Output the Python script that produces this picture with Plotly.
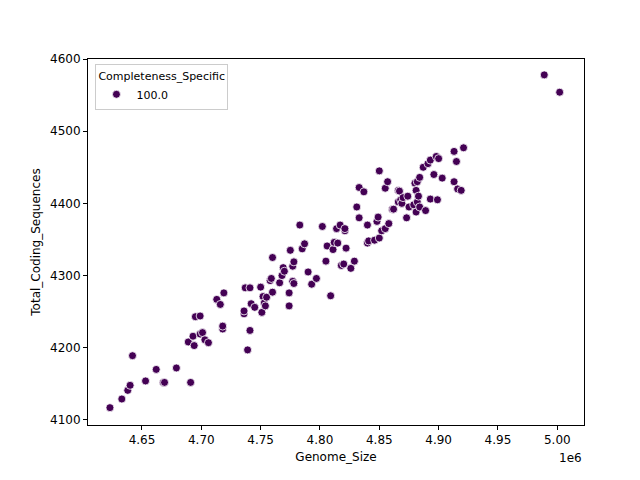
import plotly.graph_objects as go

genome_size_mb = [4.623,4.633,4.638,4.640,4.642,4.653,4.662,4.668,4.669,4.679,4.691,4.689,4.693,4.694,4.695,4.699,4.699,4.701,4.703,4.706,4.713,4.716,4.718,4.718,4.719,4.736,4.736,4.737,4.739,4.741,4.741,4.742,4.745,4.750,4.751,4.752,4.753,4.754,4.755,4.758,4.759,4.760,4.760,4.766,4.768,4.769,4.770,4.774,4.774,4.775,4.777,4.777,4.778,4.778,4.783,4.785,4.787,4.790,4.793,4.797,4.802,4.805,4.806,4.809,4.811,4.812,4.814,4.815,4.817,4.818,4.820,4.821,4.821,4.822,4.826,4.829,4.831,4.833,4.833,4.837,4.840,4.840,4.841,4.846,4.848,4.849,4.850,4.850,4.852,4.855,4.855,4.857,4.858,4.861,4.862,4.866,4.866,4.867,4.868,4.869,4.870,4.873,4.874,4.875,4.879,4.880,4.881,4.881,4.882,4.882,4.883,4.884,4.884,4.887,4.889,4.891,4.893,4.893,4.896,4.898,4.899,4.900,4.903,4.913,4.913,4.915,4.916,4.919,4.921,4.989,5.002]
total_cds = [4117,4129,4141,4148,4189,4154,4170,4152,4152,4172,4152,4208,4216,4203,4243,4244,4219,4221,4211,4207,4267,4260,4226,4230,4276,4247,4251,4283,4197,4283,4224,4261,4256,4284,4249,4271,4262,4258,4270,4293,4296,4277,4325,4290,4300,4311,4306,4258,4276,4335,4313,4292,4319,4289,4370,4337,4344,4305,4288,4296,4368,4320,4341,4272,4336,4346,4365,4345,4370,4314,4316,4362,4365,4338,4310,4320,4395,4422,4380,4416,4370,4345,4348,4349,4375,4381,4445,4352,4362,4421,4365,4430,4372,4392,4392,4418,4402,4417,4405,4400,4408,4380,4410,4395,4398,4428,4388,4418,4430,4402,4410,4436,4395,4450,4390,4455,4406,4460,4440,4465,4405,4462,4435,4472,4430,4458,4420,4418,4477,4578,4554]
genome_size = [v * 1e6 for v in genome_size_mb]
x_ticks = [4.65, 4.70, 4.75, 4.80, 4.85, 4.90, 4.95, 5.00]
y_ticks = [4100, 4200, 4300, 4400, 4500, 4600]

fig = go.Figure(go.Scatter(
    x=genome_size, y=total_cds, mode="markers", name="100.0",
    marker=dict(color="#440154", size=8, line=dict(color="white", width=0.8)),
))
ax = dict(showgrid=False, zeroline=False, showline=True, mirror=True, linecolor="black",
          linewidth=1, ticks="outside", ticklen=4, tickcolor="black",
          tickfont=dict(size=12, color="black"), title_font=dict(size=12, color="black"))
fig.update_layout(
    width=640, height=480, plot_bgcolor="white", paper_bgcolor="white",
    font=dict(family="DejaVu Sans", color="black"),
    margin=dict(l=80, r=64, t=51, b=63),
    xaxis=dict(ax, range=[4.6045e6, 5.0225e6], tickvals=[t * 1e6 for t in x_ticks],
               ticktext=[f"{t:.2f}" for t in x_ticks], title=dict(text="Genome_Size", standoff=6)),
    yaxis=dict(ax, range=[4093, 4600], tickvals=y_ticks, title=dict(text="Total_Coding_Sequences", standoff=6)),
    showlegend=True,
    legend=dict(x=0.015, y=0.985, xanchor="left", yanchor="top", bordercolor="#cccccc", borderwidth=1,
                bgcolor="white", title=dict(text="Completeness_Specific", side="top", font=dict(size=11)),
                font=dict(size=11)),
    annotations=[dict(text="1e6", xref="paper", yref="paper", x=1, y=-0.065, xanchor="right",
                      yanchor="top", showarrow=False, font=dict(size=12))],
)
fig.write_html("out.html")
